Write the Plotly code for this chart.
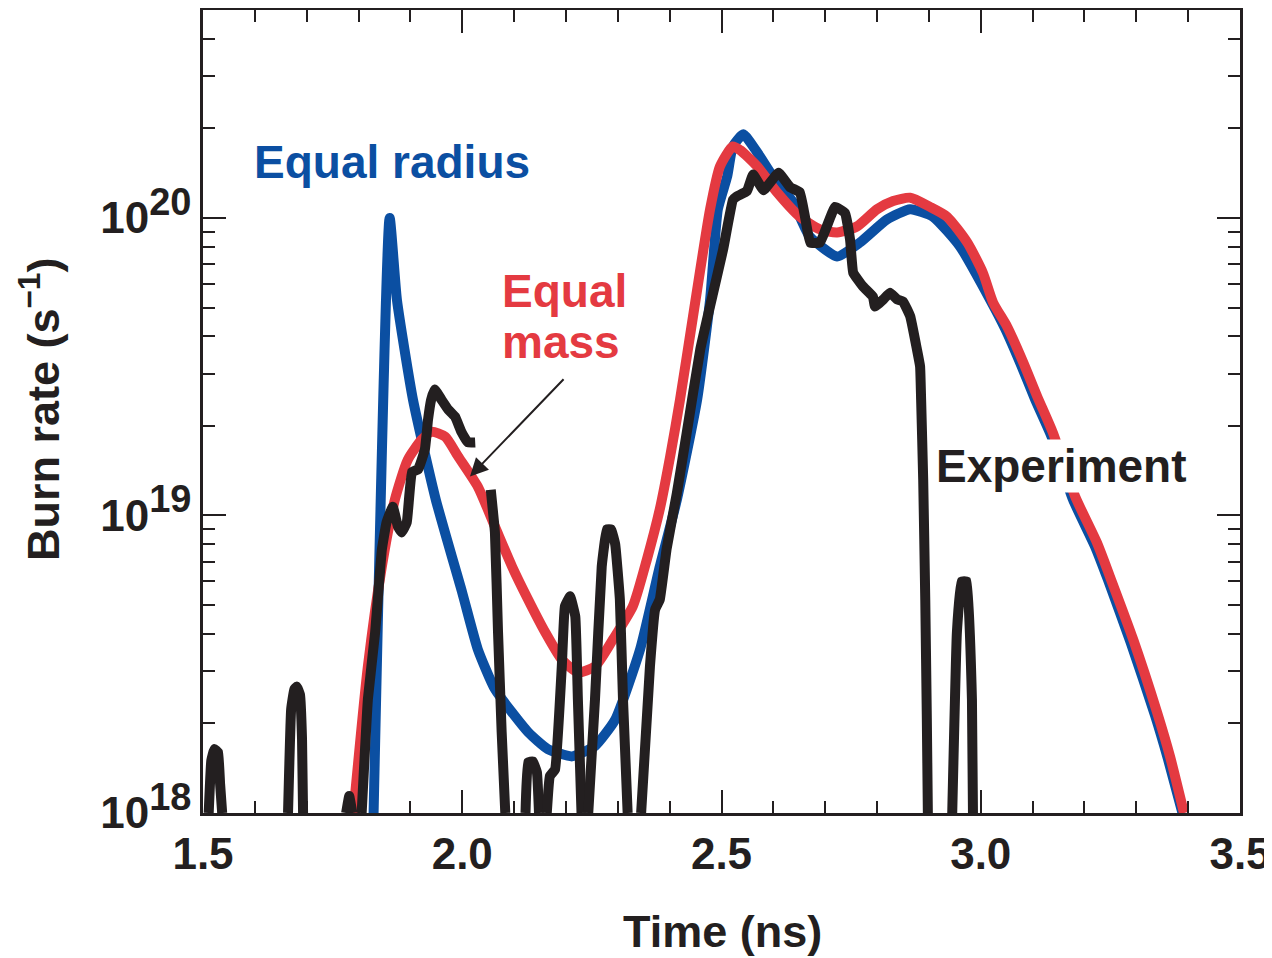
import plotly.graph_objects as go

# ---------------- data ----------------
# Equal radius simulation (blue)
radius_t = [1.829, 1.860, 1.874, 1.905, 1.949, 2.000, 2.030, 2.063, 2.127, 2.165,
            2.212, 2.256, 2.295, 2.343, 2.381, 2.414, 2.453, 2.478, 2.493, 2.511,
            2.522, 2.542, 2.569, 2.599, 2.638, 2.670, 2.723, 2.767, 2.819, 2.864,
            2.908, 2.960, 3.018, 3.047, 3.078, 3.105, 3.136, 3.178, 3.220, 3.245,
            3.289, 3.336, 3.361, 3.389]
radius_rate = [1.0e18, 1.0e20, 5.31e19, 2.45e19, 1.13e19, 5.5e18, 3.55e18, 2.61e18, 1.87e18, 1.64e18,
               1.55e18, 1.68e18, 2.06e18, 3.55e18, 6.74e18, 1.13e19, 2.45e19, 5.31e19, 1.07e20, 1.38e20,
               1.74e20, 1.91e20, 1.66e20, 1.38e20, 1.13e20, 8.67e19, 7.42e19, 8.27e19, 9.88e19, 1.07e20,
               1.01e20, 8.02e19, 5.32e19, 4.25e19, 3.20e19, 2.45e19, 1.85e19, 1.13e19, 7.9e18, 6.1e18,
               3.75e18, 2.13e18, 1.52e18, 1.0e18]

# Equal mass simulation (red)
mass_t = [1.790, 1.818, 1.845, 1.870, 1.895, 1.922, 1.941, 1.967, 1.992, 2.030,
          2.063, 2.096, 2.127, 2.160, 2.192, 2.223, 2.256, 2.291, 2.329, 2.356,
          2.381, 2.401, 2.420, 2.445, 2.478, 2.497, 2.522, 2.536, 2.569, 2.607,
          2.651, 2.690, 2.723, 2.761, 2.800, 2.831, 2.864, 2.902, 2.935, 2.974,
          3.004, 3.024, 3.051, 3.082, 3.109, 3.139, 3.182, 3.224, 3.249, 3.294,
          3.340, 3.365, 3.392]
mass_rate = [1.0e18, 3.11e18, 6.74e18, 1.13e19, 1.54e19, 1.80e19, 1.91e19, 1.84e19, 1.58e19, 1.25e19,
             9.18e18, 6.74e18, 5.22e18, 4.05e18, 3.28e18, 2.97e18, 3.11e18, 3.84e18, 4.95e18, 7.11e18,
             1.05e19, 1.58e19, 2.45e19, 4.66e19, 1.07e20, 1.49e20, 1.74e20, 1.69e20, 1.49e20, 1.22e20,
             1.01e20, 9.15e19, 8.94e19, 9.36e19, 1.07e20, 1.14e20, 1.17e20, 1.09e20, 1.01e20, 8.27e19,
             6.55e19, 5.19e19, 4.31e19, 3.27e19, 2.51e19, 1.90e19, 1.16e19, 8.11e18, 6.24e18, 3.83e18,
             2.18e18, 1.55e18, 1.0e18]

# Experiment (black); None separates pieces that fall below 1e18
exp_t = [1.511, 1.516, 1.522, 1.529, 1.533, 1.537, None,
         1.664, 1.670, 1.676, 1.681, 1.687, 1.691, 1.693, None,
         1.776, 1.782, 1.788, None,
         1.806, 1.818, 1.832, 1.845, 1.854, 1.866, 1.876, 1.883, 1.893, 1.903,
         1.915, 1.928, 1.934, 1.940, 1.947, 1.960, 1.973, 1.986, 1.999, 2.011, 2.025, None,
         2.055, 2.063, 2.069, 2.076, 2.083, None,
         2.122, 2.127, 2.136, 2.144, 2.148, None,
         2.163, 2.169, 2.179, 2.192, 2.198, 2.208, 2.218, 2.223, 2.230, None,
         2.243, 2.256, 2.269, 2.279, 2.287, 2.295, 2.304, 2.310, 2.319, None,
         2.345, 2.362, 2.372, 2.381, 2.394, 2.414, 2.433, 2.459, 2.484, 2.503,
         2.522, 2.529, 2.549, 2.561, 2.581, 2.610, 2.632, 2.651, 2.661, 2.671,
         2.690, 2.703, 2.719, 2.738, 2.748, 2.754, 2.773, 2.792, 2.796, 2.812,
         2.825, 2.839, 2.850, 2.864, 2.877, 2.883, 2.885, 2.889, 2.893, 2.896, 2.898, None,
         2.945, 2.954, 2.963, 2.973, 2.983, 2.985]
exp_rate = [1.0e18, 1.5e18, 1.64e18, 1.6e18, 1.25e18, 1.0e18, None,
            1.0e18, 2.23e18, 2.6e18, 2.66e18, 2.5e18, 1.77e18, 1.0e18, None,
            1.0e18, 1.14e18, 1.0e18, None,
            1.0e18, 2.41e18, 4.05e18, 7.69e18, 9.48e18, 1.07e19, 9.18e18, 8.77e18, 9.48e18, 1.40e19,
            1.43e19, 1.67e19, 2.10e19, 2.45e19, 2.65e19, 2.45e19, 2.27e19, 2.15e19, 1.90e19, 1.76e19, 1.76e19, None,
            1.22e19, 8.77e18, 4.05e18, 1.87e18, 1.0e18, None,
            1.0e18, 1.48e18, 1.49e18, 1.37e18, 1.0e18, None,
            1.0e18, 1.33e18, 1.40e18, 3.11e18, 4.95e18, 5.35e18, 4.58e18, 2.41e18, 1.0e18, None,
            1.0e18, 2.41e18, 6.74e18, 8.98e18, 8.98e18, 8.0e18, 5.22e18, 2.41e18, 1.0e18, None,
            1.0e18, 3.11e18, 4.83e18, 5.22e18, 7.69e18, 1.19e19, 1.90e19, 3.61e19, 5.61e19, 7.82e19,
            1.15e20, 1.18e20, 1.23e20, 1.40e20, 1.24e20, 1.42e20, 1.27e20, 1.22e20, 1.01e20, 8.27e19,
            8.27e19, 9.36e19, 1.09e20, 1.04e20, 8.45e19, 6.55e19, 5.88e19, 5.44e19, 5.04e19, 5.32e19,
            5.61e19, 5.32e19, 5.24e19, 4.67e19, 3.61e19, 3.17e19, 2.45e19, 1.32e19, 5.2e18, 2.07e18, 1.0e18, None,
            1.0e18, 4.05e18, 6.0e18, 6.0e18, 2.41e18, 1.0e18]

# y tick labels
y_tickvals = [1e18, 1e19, 1e20]
y_exponents = ["18", "19", "20"]

BLUE = "#0b4fa2"
RED = "#e43a41"
BLACK = "#231f20"
FONT = "Liberation Sans"

fig = go.Figure()
fig.add_trace(go.Scatter(x=radius_t, y=radius_rate, mode="lines",
                         line=dict(color=BLUE, width=10, shape="spline", smoothing=0.5),
                         name="Equal radius"))
fig.add_trace(go.Scatter(x=mass_t, y=mass_rate, mode="lines",
                         line=dict(color=RED, width=10, shape="spline", smoothing=0.6),
                         name="Equal mass"))
fig.add_trace(go.Scatter(x=exp_t, y=exp_rate, mode="lines", connectgaps=False,
                         line=dict(color=BLACK, width=10, shape="spline", smoothing=0.3),
                         name="Experiment"))

axis_common = dict(
    showline=True, linecolor=BLACK, linewidth=2.5, mirror="allticks",
    ticks="inside", tickcolor=BLACK, tickwidth=2.2, ticklen=23,
    showgrid=False, zeroline=False, automargin=False,
    tickfont=dict(family=FONT, size=44, color=BLACK, weight="bold"),
)

fig.update_xaxes(
    range=[1.5, 3.5], dtick=0.5, tick0=1.5, tickformat=".1f", ticklabeloverflow="allow",
    minor=dict(ticks="inside", dtick=0.1, ticklen=12, tickwidth=2.2, tickcolor=BLACK, showgrid=False),
    **axis_common,
)
fig.update_yaxes(
    type="log", range=[18, 20.699], tickmode="array", tickvals=y_tickvals,
    ticktext=["10<sup><span style='font-size:38px'>" + e + "</span></sup>" for e in y_exponents],
    minor=dict(ticks="inside", dtick="D1", ticklen=12, tickwidth=2.2, tickcolor=BLACK, showgrid=False),
    **axis_common,
)

title_font = dict(family=FONT, size=45, color=BLACK, weight="bold")
# axis titles placed as annotations in paper coordinates
fig.add_annotation(text="Time (ns)", xref="paper", yref="paper", x=0.5005, y=-0.148,
                   xanchor="center", yanchor="middle", showarrow=False, font=title_font)
fig.add_annotation(text="Burn rate (s<sup>−1</sup>)", xref="paper", yref="paper",
                   x=-0.157, y=0.502, xanchor="center", yanchor="middle",
                   textangle=-90, showarrow=False, font=title_font)

def label(text, x, y, color, **kw):
    fig.add_annotation(x=x, y=y, xref="x", yref="y", text=text, showarrow=False,
                       xanchor="left", yanchor="middle",
                       font=dict(family=FONT, size=46, color=color, weight="bold"), **kw)

label("Equal radius", 1.5945, 20.189, BLUE)
label("Equal", 2.0728, 19.755, RED)
label("mass", 2.0728, 19.584, RED)
label("Experiment", 2.912, 19.168, BLACK, bgcolor="white", borderpad=0)

# arrow pointing to the Equal-mass curve
fig.add_annotation(x=2.0149, y=19.131, ax=2.1982, ay=19.463, xref="x", yref="y",
                   axref="x", ayref="y", text="", showarrow=True, arrowhead=2,
                   arrowsize=1.8, arrowwidth=2, arrowcolor=BLACK, standoff=0)

# the page adds an 8 px body margin, so the figure is slightly smaller and offset
fig.update_layout(
    width=1264, height=950,
    margin=dict(l=195, r=32, t=2, b=145),
    paper_bgcolor="white", plot_bgcolor="white",
    showlegend=False,
    font=dict(family=FONT, color=BLACK),
)

fig.write_html("out.html")
